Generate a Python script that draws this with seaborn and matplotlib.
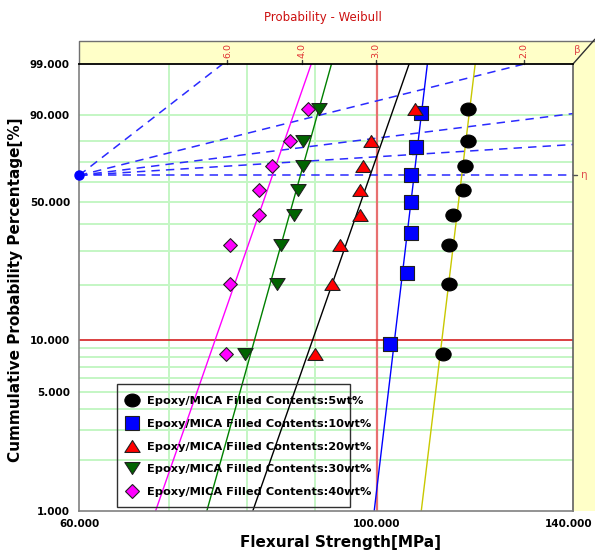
import numpy as np
import pandas as pd
import matplotlib
matplotlib.use("Agg")
import matplotlib.pyplot as plt
import seaborn as sns
from matplotlib.path import Path
from matplotlib.transforms import Affine2D, ScaledTranslation, blended_transform_factory
from matplotlib.lines import Line2D
from matplotlib.patches import Polygon, Rectangle
from matplotlib.ticker import NullLocator

# flexural strength [MPa] per filler content (sorted)
series_labels = [
    "Epoxy/MICA Filled Contents:5wt%",
    "Epoxy/MICA Filled Contents:10wt%",
    "Epoxy/MICA Filled Contents:20wt%",
    "Epoxy/MICA Filled Contents:30wt%",
    "Epoxy/MICA Filled Contents:40wt%",
]
strength_5wt = [112.0, 113.1, 113.1, 113.9, 116.0, 116.3, 117.0, 117.0]
strength_10wt = [102.2, 105.4, 106.0, 106.1, 106.1, 107.0, 107.9]
strength_20wt = [90.0, 92.6, 93.9, 97.1, 97.1, 97.7, 99.0, 106.8]
strength_30wt = [79.7, 84.2, 84.8, 86.8, 87.4, 88.1, 88.1, 90.6]
strength_40wt = [77.2, 77.8, 77.8, 81.7, 81.7, 83.6, 86.2, 88.8]
all_strengths = [strength_5wt, strength_10wt, strength_20wt, strength_30wt, strength_40wt]

# beta of the dashed guide lines drawn from the eta point
guide_betas = [6.2, 2.0, 1.0, 0.5, 0.0]
beta_scale_ticks = [6.0, 4.0, 3.0, 2.0]

x_ticks = [60, 100, 140]
y_ticks = [1, 5, 10, 50, 90, 99]
grid_x = [70, 80, 90]
grid_y = [2, 3, 4, 5, 6, 7, 8, 9, 20, 30, 40, 50, 60, 70, 80, 90]
red_x = [100]
red_y = [10]

# styles
marker_colors = ["black", "#0000ff", "#ff0000", "#006400", "#ff00ff"]
line_colors = ["#c8c800", "#0000ff", "black", "#008000", "#ff00ff"]
ellipse = Path.unit_circle().transformed(Affine2D().scale(1.0, 0.84))
tri_up = Path([(0, 0.78), (-1, -0.78), (1, -0.78), (0, 0.78)], closed=True)
tri_down = Path([(0, -0.78), (-1, 0.78), (1, 0.78), (0, -0.78)], closed=True)
markers = [ellipse, "s", tri_up, tri_down, "D"]
marker_sizes = [11, 10, 11, 11, 7]
edge_colors = ["black", "#202020", "#202020", "#202020", "#202020"]

band_color = "#ffffc8"
grid_green = "#c4f6c4"
red = "#d42020"


def weibull_fwd(p):
    p = np.clip(np.asarray(p, dtype=float), 1e-9, 100 - 1e-9)
    return np.log(-np.log(1 - p / 100.0))


def weibull_inv(v):
    return 100.0 * (1 - np.exp(-np.exp(np.asarray(v, dtype=float))))


# long-form table with median ranks
rows = []
for label, vals in zip(series_labels, all_strengths):
    n = len(vals)
    for i, s in enumerate(sorted(vals), start=1):
        rows.append({"series": label, "strength": s, "prob": (i - 0.3) / (n + 0.4) * 100})
df = pd.DataFrame(rows)

sns.set_style("white")
plt.rcParams["font.family"] = ["DejaVu Sans"]
plt.rcParams["text.color"] = "black"

fig = plt.figure(figsize=(5.95, 5.54), dpi=100)
ax = fig.add_axes([79 / 595, 43 / 554, 494 / 595, 447 / 554])
ax.set_xscale("log")
ax.set_yscale("function", functions=(weibull_fwd, weibull_inv))
ax.set_xlim(x_ticks[0], x_ticks[-1])
ax.set_ylim(y_ticks[0], y_ticks[-1])

# grid
for g in grid_x:
    ax.axvline(g, color=grid_green, lw=1.4, zorder=0)
for g in grid_y:
    ax.axhline(g, color=grid_green, lw=1.4, zorder=0)
for g in red_x:
    ax.axvline(g, color="#e87070", lw=1.6, zorder=0.5)
for g in red_y:
    ax.axhline(g, color=red, lw=1.2, zorder=0.5)

# rank regression on X fits
v_ends = weibull_fwd([y_ticks[0], y_ticks[-1]])
for (label, grp), lc in zip(df.groupby("series", sort=False), line_colors):
    u = np.log(grp["strength"].values)
    v = weibull_fwd(grp["prob"].values)
    b, a = np.polyfit(v, u, 1)
    fit = pd.DataFrame({"x": np.exp(a + b * v_ends), "y": weibull_inv(v_ends)})
    sns.lineplot(data=fit, x="x", y="y", color=lc, lw=1.0, ax=ax,
                 estimator=None, sort=False, legend=False, zorder=2)

# dashed beta guide lines from the eta point
u0 = np.log(x_ticks[0])
u_right = np.log(x_ticks[-1])
v_top = weibull_fwd(y_ticks[-1])
for beta in guide_betas:
    if beta > 0:
        v_end = min(v_top, beta * (u_right - u0))
        u_end = u0 + v_end / beta
    else:
        v_end, u_end = 0.0, u_right
    ax.plot([x_ticks[0], np.exp(u_end)], [weibull_inv(0), weibull_inv(v_end)],
            color="#2a2aff", lw=1.1, dashes=(5.5, 4), zorder=1.5)
ax.plot([x_ticks[0]], [weibull_inv(0)], "o", ms=6.5, color="#0000ff",
        clip_on=False, zorder=6)

# data points
for (label, grp), mk, ms, mc, ec in zip(df.groupby("series", sort=False), markers,
                                        marker_sizes, marker_colors, edge_colors):
    sns.scatterplot(data=grp, x="strength", y="prob", marker=mk, s=ms ** 2,
                    color=mc, edgecolor=ec, linewidth=0.8, ax=ax, legend=False,
                    zorder=4)

# ticks
ax.set_xticks(x_ticks)
ax.set_xticklabels([f"{t:.3f}" for t in x_ticks])
ax.set_yticks(y_ticks)
ax.set_yticklabels([f"{t:.3f}" for t in y_ticks])
ax.xaxis.set_minor_locator(NullLocator())
ax.yaxis.set_minor_locator(NullLocator())
ax.tick_params(axis="both", direction="out", length=3.5, width=1, color="#606060",
               labelsize=7.5, pad=2, labelcolor="black")
ax.tick_params(axis="y", pad=3)
for t in ax.get_xticklabels() + ax.get_yticklabels():
    t.set_fontweight("bold")
# the last x label sits on the figure edge; nudge it inside
last = ax.get_xticklabels()[-1]
last.set_transform(last.get_transform() + ScaledTranslation(-4 / 100, 0, fig.dpi_scale_trans))
ax.set_xlabel("")
ax.set_ylabel("")

for side in ["left", "bottom"]:
    ax.spines[side].set_color("#808080")
    ax.spines[side].set_linewidth(1.2)
ax.spines["top"].set_color("black")
ax.spines["top"].set_linewidth(1.3)
ax.spines["right"].set_color("#606060")
ax.spines["right"].set_linewidth(1.2)

# beta band on top and eta band on the right
dx = 20 / 494
dy = 22.6 / 447
top_band = Polygon([(0, 1), (1, 1), (1 + dx, 1 + dy), (0, 1 + dy)], closed=True,
                   transform=ax.transAxes, facecolor=band_color, edgecolor="none",
                   clip_on=False, zorder=-1)
right_band = Polygon([(1, 0), (1, 1), (1 + dx, 1 + dy), (1.08, 1 + dy), (1.08, 0)],
                     closed=True, transform=ax.transAxes, facecolor=band_color,
                     edgecolor="none", clip_on=False, zorder=-1)
ax.add_patch(top_band)
ax.add_patch(right_band)
ax.plot([0, 0, 1.08], [1, 1 + dy, 1 + dy], color="#707070", lw=1.0,
        transform=ax.transAxes, clip_on=False)
ax.plot([1, 1 + dx + 0.004], [1, 1 + dy + 0.005], color="#303030", lw=1.0,
        transform=ax.transAxes, clip_on=False)

top_trans = blended_transform_factory(ax.transData, ax.transAxes)
for beta in beta_scale_ticks:
    xb = np.exp(u0 + v_top / beta)
    ax.plot([xb, xb], [1, 1 + 4 / 447], color="#404040", lw=1.0,
            transform=top_trans, clip_on=False)
    ax.text(xb, 1 + 5.5 / 447, f"{beta:.1f}", rotation=90, ha="center", va="bottom",
            color="#e03030", fontsize=6.8, transform=top_trans)
ax.text(1.003, 1 + 9 / 447, "\u03b2", color="#e05050", fontsize=7.5,
        ha="left", va="bottom", transform=ax.transAxes)

right_trans = blended_transform_factory(ax.transAxes, ax.transData)
ax.plot([1, 1 + 4 / 494], [weibull_inv(0)] * 2, color="#505050", lw=1.0,
        transform=right_trans, clip_on=False)
ax.text(1 + 8 / 494, weibull_inv(0), "\u03b7", color="#e05050", fontsize=7.5,
        ha="left", va="center", transform=right_trans)

# legend with a frame drawn separately (labels run past it in the original)
handles = [Line2D([], [], ls="none", marker=mk, ms=ms, mfc=mc, mec=ec, mew=0.8)
           for mk, ms, mc, ec in zip(markers, marker_sizes, marker_colors, edge_colors)]
ax.legend(handles, series_labels, loc="lower left", bbox_to_anchor=(0.093, 0.031),
          frameon=False, borderpad=0, borderaxespad=0, handlelength=1.3,
          handletextpad=0.62, labelspacing=1.12,
          prop={"size": 8.2, "weight": "bold"})
ax.add_patch(Rectangle((38 / 494, 4.3 / 447), (350 - 117) / 494, (507 - 384) / 447,
                       transform=ax.transAxes, facecolor="none", edgecolor="#303030",
                       lw=1.0, zorder=5))

# titles
fig.text(323 / 595, 1 - 18 / 554, "Probability - Weibull", color="#cc1010",
         fontsize=8.5, ha="center", va="center")
fig.text(340 / 595, 1 - 543 / 554, "Flexural Strength[MPa]", fontsize=11,
         fontweight="bold", ha="center", va="center")
fig.text(16 / 595, 1 - 290 / 554, "Cummulative Probability Percentage[%]", fontsize=11,
         fontweight="bold", ha="center", va="center", rotation=90)

fig.savefig("out.png", dpi=100)
